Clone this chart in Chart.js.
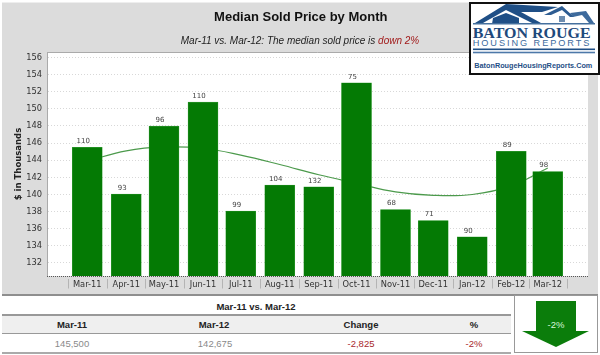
<!DOCTYPE html>
<html>
<head>
<meta charset="utf-8">
<script src="https://cdn.jsdelivr.net/npm/chart.js@4"></script>
<style>
html,body{margin:0;padding:0;background:#fff;overflow:hidden}
#wrap{position:relative;width:600px;height:355px;font-family:"Liberation Sans",Arial,sans-serif}
#panel{position:absolute;left:2px;top:2px;width:596px;height:294px;background:#dcdcdc;border-bottom:2px solid #8e8e8e;border-top:1px solid #eee;box-sizing:border-box}
#chartBox{position:absolute;left:0;top:0;width:600px;height:296px}
#sub{position:absolute;left:0;width:600px;top:35px;text-align:center;font:italic 10px "Liberation Sans";color:#222}
#sub span{color:#a11a1a}
#logo{position:absolute;left:466px;top:0}
.t{position:absolute;transform:translate(-50%,-50%);white-space:nowrap;font-size:9.5px}
.b{font-weight:bold;color:#222}
.g{color:#8a8a8a}
.r{color:#a8282c}
.ln{position:absolute;left:2px;width:509px;height:1px;background:#999}
#hdr{position:absolute;left:2px;top:315px;width:509px;height:18px;background:#efefef}
#arrow{position:absolute;left:514px;top:295px}
</style>
</head>
<body>
<div id="wrap">
  <div id="panel"></div>
  <div id="chartBox"><canvas id="myChart" width="600" height="296"></canvas></div>
  <div id="sub">Mar-11 vs. Mar-12: The median sold price is <span>down 2%</span></div>

  <svg id="logo" width="134" height="76" viewBox="0 0 134 76">
    <rect x="4" y="3" width="129" height="71" fill="#fff" stroke="#111" stroke-width="2"/>
    <path d="M9 23 L40 4 L92 7 L76 12 L55 12 L75 23 L66 23 L40 10 L17 23 Z" fill="#1f4f86"/>
    <path d="M26 24 L27 18 L40 13 L53 18 L53 24 Z" fill="#1f4f86"/>
    <path d="M78 15 L96 6 L108 17 L104 17 L96 10 L85 15 Z" fill="#2d5c92"/>
    <path d="M104 13 L120 11 L128 23 L123 23 L116 15 L107 17 Z" fill="#3d6a9c"/>
    <rect x="93" y="16" width="6" height="6" fill="#6d8db0"/>
    <rect x="7" y="23" width="122" height="1.5" fill="#45709e"/>
    <text x="6.7" y="37.7" textLength="118" lengthAdjust="spacingAndGlyphs" font-family="Liberation Serif" font-weight="bold" font-size="15.5" fill="#1f4a7c">BATON ROUGE</text>
    <text x="6.7" y="45.7" textLength="116.7" font-family="Liberation Sans" font-size="9.2" fill="#3d6a9c">HOUSING REPORTS</text>
    <rect x="7" y="48.5" width="122" height="1.6" fill="#1f4f86"/>
    <rect x="7" y="51.7" width="122" height="1.6" fill="#4d78a8"/>
    <text x="8.3" y="67.5" textLength="118" lengthAdjust="spacingAndGlyphs" font-family="Liberation Sans" font-weight="bold" font-size="7.6" fill="#1f4f86">BatonRougeHousingReports.Com</text>
  </svg>

  <div class="t b" style="left:256px;top:306px">Mar-11 vs. Mar-12</div>
  <div id="hdr"></div>
  <div class="ln" style="top:314px;height:2px"></div>
  <div class="ln" style="top:333px"></div>
  <div class="ln" style="top:352px;height:2px;background:#aaa"></div>
  <div class="t b" style="left:72px;top:324px">Mar-11</div>
  <div class="t b" style="left:214px;top:324px">Mar-12</div>
  <div class="t b" style="left:361px;top:324px">Change</div>
  <div class="t b" style="left:474px;top:324px">%</div>
  <div class="t g" style="left:72px;top:343px">145,500</div>
  <div class="t g" style="left:215px;top:343px">142,675</div>
  <div class="t r" style="left:361px;top:343px">-2,825</div>
  <div class="t r" style="left:474px;top:343px">-2%</div>

  <svg id="arrow" width="84" height="59">
    <rect x="0.5" y="0.5" width="83" height="57" fill="#fff" stroke="#999"/>
    <path d="M22 6 H62 V36 H75 L42 52 L8 36 H22 Z" fill="#0b7d0b"/>
    <text x="42" y="32.5" text-anchor="middle" font-family="Liberation Sans" font-size="9.5" fill="#d8f5d8">-2%</text>
  </svg>
</div>

<script>
const months = ["2011-03-01","2011-04-01","2011-05-01","2011-06-01","2011-07-01","2011-08-01","2011-09-01","2011-10-01","2011-11-01","2011-12-01","2012-01-01","2012-02-01","2012-03-01"];
const monthLabels = ["Mar-11","Apr-11","May-11","Jun-11","Jul-11","Aug-11","Sep-11","Oct-11","Nov-11","Dec-11","Jan-12","Feb-12","Mar-12"];
const medianPrice = [145.5,140.05,148,150.8,138.05,141.1,140.9,153.05,138.25,136.95,135.05,145.05,142.68];
const soldCount = [110,93,96,110,99,104,132,75,68,71,90,89,98];
const trend = [143.9,145.1,145.55,145.4,144.6,143.5,142.3,141.3,140.3,139.9,140,141,143.1];

// the original x axis is a date axis, Feb is a bit narrower
const dayNo = months.map(m => Date.parse(m) / 86400000 - Date.parse(months[0]) / 86400000);
const bars = dayNo.map((d, i) => ({x: d, y: medianPrice[i]}));
const trendPts = dayNo.map((d, i) => ({x: d, y: trend[i]}));

const barLabels = {
  id: "barLabels",
  afterDatasetsDraw(chart) {
    const c = chart.ctx;
    const meta = chart.getDatasetMeta(1);
    c.save();
    c.font = "7px 'DejaVu Sans'";
    c.fillStyle = "#444";
    c.textAlign = "center";
    c.textBaseline = "bottom";
    meta.data.forEach((el, i) => c.fillText(soldCount[i], el.x - 4, el.y - 2.5));
    c.restore();
  }
};

const axisExtras = {
  id: "axisExtras",
  afterDraw(chart) {
    const c = chart.ctx, sx = chart.scales.x, a = chart.chartArea;
    const bottom = Math.round(a.bottom) + 0.5;
    c.save();
    // frame top and left
    c.strokeStyle = "#aaa";
    c.beginPath();
    c.moveTo(Math.round(a.left) + 0.5, bottom);
    c.lineTo(Math.round(a.left) + 0.5, Math.round(a.top) + 0.5);
    c.lineTo(a.right, Math.round(a.top) + 0.5);
    c.stroke();
    // dotted base line
    c.strokeStyle = "#555";
    c.setLineDash([1, 1]);
    c.beginPath(); c.moveTo(a.left, bottom); c.lineTo(a.right, bottom); c.stroke();
    c.setLineDash([]);
    // dividers between the month labels
    const edges = [dayNo[0] - 15.5];
    for (let i = 1; i < dayNo.length; i++) edges.push((dayNo[i - 1] + dayNo[i]) / 2);
    edges.push(dayNo[dayNo.length - 1] + 15.5);
    c.strokeStyle = "#b4b4b4";
    edges.forEach(d => {
      const px = Math.round(sx.getPixelForValue(d)) + 0.5;
      c.beginPath(); c.moveTo(px, bottom + 2.5); c.lineTo(px, bottom + 12); c.stroke();
    });
    c.restore();
  }
};

const plotBg = {
  id: "plotBg",
  beforeDraw(chart) {
    const a = chart.chartArea, c = chart.ctx;
    c.save();
    c.fillStyle = "#fff";
    c.fillRect(a.left, a.top, a.width, a.height);
    c.restore();
  }
};

const chart = new Chart(document.getElementById("myChart").getContext("2d"), {
  data: {
    datasets: [{
      type: "line",
      data: trendPts,
      borderColor: "#4c9a4c",
      borderWidth: 1.2,
      pointRadius: 0,
      tension: 0.4,
      order: 2
    },{
      type: "bar",
      data: bars,
      backgroundColor: "#047a04",
      borderColor: "#3fa53f",
      borderWidth: 0.5,
      barThickness: 30,
      base: 130.48,
      order: 1
    }]
  },
  options: {
    responsive: false,
    animation: false,
    layout: {padding: {left: 13.5, right: 12, top: 0, bottom: 0}},
    plugins: {
      legend: {display: false},
      tooltip: {enabled: false},
      title: {
        display: true,
        text: "Median Sold Price by Month",
        color: "#111",
        font: {family: "Liberation Sans", size: 13, weight: "bold"},
        padding: {top: 10, bottom: 26.4}
      }
    },
    scales: {
      x: {
        type: "linear",
        min: -32,
        max: 398,
        offset: false,
        afterBuildTicks(axis) { axis.ticks = dayNo.map(d => ({value: d})); },
        afterFit(axis) { axis.height = 20; },
        grid: {display: false, drawTicks: false},
        border: {display: false},
        ticks: {
          autoSkip: false, maxRotation: 0, padding: 4,
          color: "#333",
          font: {family: "DejaVu Sans", size: 8.3},
          callback: v => monthLabels[dayNo.indexOf(v)]
        }
      },
      y: {
        min: 130.48,
        max: 156.64,
        afterBuildTicks(axis) {
          axis.ticks = [];
          for (let v = 132; v <= 156; v += 2) axis.ticks.push({value: v});
        },
        afterFit(axis) { axis.width = 33.5; },
        title: {
          display: true, text: "$ in Thousands", color: "#222", padding: 0,
          font: {family: "DejaVu Sans", size: 8.5, weight: "bold"}
        },
        grid: {color: "#d8d8d8", drawTicks: false, tickLength: 0, lineWidth: 1},
        border: {display: true, color: "#aaa", width: 1, dash: [1, 2]},
        ticks: {
          padding: 5, color: "#333",
          font: {family: "DejaVu Sans", size: 8.3},
          callback: v => v
        }
      }
    }
  },
  plugins: [plotBg, barLabels, axisExtras]
});
</script>
</body>
</html>
